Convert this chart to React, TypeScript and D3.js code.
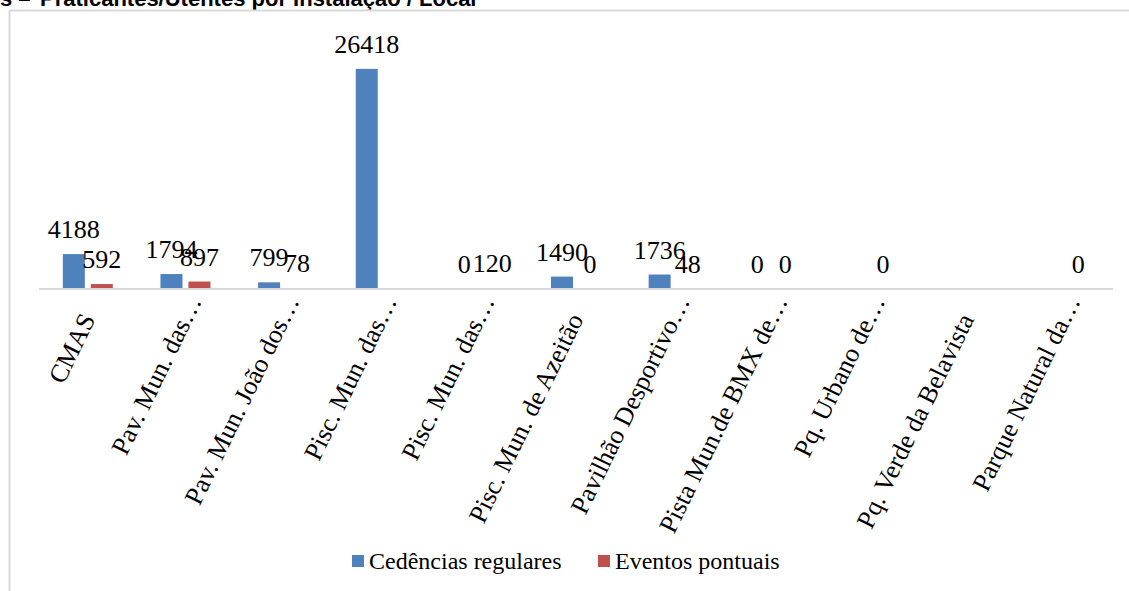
import React from "react";
import * as d3 from "d3";

const categories = [
  "CMAS",
  "Pav. Mun. das…",
  "Pav. Mun. João dos…",
  "Pisc. Mun. das…",
  "Pisc. Mun. das…",
  "Pisc. Mun. de Azeitão",
  "Pavilhão Desportivo…",
  "Pista Mun.de BMX de…",
  "Pq. Urbano de…",
  "Pq. Verde da Belavista",
  "Parque Natural da…",
];
const cedencias: (number | null)[] = [4188, 1794, 799, 26418, 0, 1490, 1736, 0, null, null, null];
const eventos: (number | null)[] = [592, 897, 78, null, 120, 0, 48, 0, 0, null, 0];
const seriesNames = ["Cedências regulares", "Eventos pontuais"];
const seriesColors = ["#4f81bd", "#c0504d"];
const titlePrefix = "s –";
const titleText = "Praticantes/Utentes por Instalação / Local";

const W = 1129;
const H = 591;
const axisY = 289;
const plotTop = 39;
const plotLeft = 39;
const plotRight = 1113;
const ANG = 64;
const serif = "'Liberation Serif', 'Times New Roman', serif";

export default function App() {
  const x0 = d3.scaleBand<number>().domain(categories.map((_, i) => i)).range([plotLeft, plotRight]).padding(0);
  const x1 = d3.scaleBand<number>().domain([0, 1]).range([0, 50]).paddingInner(0.214).paddingOuter(0);
  const y = d3.scaleLinear().domain([0, 30000]).range([axisY, plotTop]);
  const series = [cedencias, eventos];
  const bw = x0.bandwidth();
  const rad = (ANG * Math.PI) / 180;
  const ux = Math.cos(rad);
  const uy = -Math.sin(rad);

  return (
    <svg width={W} height={H} style={{ position: "absolute", left: 0, top: 0, background: "#fff" }}>
      <rect x={0} y={0} width={W} height={H} fill="#fff" />
      <text y={6} fontFamily="'Liberation Sans', Arial, sans-serif" fontWeight="bold" fontSize={22} fill="#000">
        <tspan x={0}>{titlePrefix}</tspan>
        <tspan x={40}>{titleText}</tspan>
      </text>
      <line x1={9.5} y1={10.5} x2={W} y2={10.5} stroke="#d9d9d9" strokeWidth={2} />
      <line x1={9.5} y1={10.5} x2={9.5} y2={H} stroke="#d9d9d9" strokeWidth={2} />

      {series.map((vals, si) =>
        vals.map((v, i) => {
          if (v === null || v <= 0) return null;
          const gx = (x0(i) as number) + (bw - 50) / 2;
          const bx = gx + (x1(si) as number);
          const top = y(v);
          return (
            <rect key={`b${si}-${i}`} x={bx} y={top} width={x1.bandwidth()} height={axisY - top} fill={seriesColors[si]} />
          );
        })
      )}

      <line x1={plotLeft} y1={axisY} x2={plotRight} y2={axisY} stroke="#d9d9d9" strokeWidth={2} />

      {series.map((vals, si) =>
        vals.map((v, i) => {
          if (v === null) return null;
          const gx = (x0(i) as number) + (bw - 50) / 2;
          const cx = gx + (x1(si) as number) + x1.bandwidth() / 2;
          return (
            <text
              key={`l${si}-${i}`}
              x={cx}
              y={y(v) - 16}
              textAnchor="middle"
              fontFamily={serif}
              fontSize={26}
              fill="#000"
            >
              {v}
            </text>
          );
        })
      )}

      {categories.map((c, i) => {
        const cx = (x0(i) as number) + bw / 2;
        const ell = c.endsWith("…") ? 20 : 0;
        const ax = cx + 8 + ell * ux;
        const ay = 319 + ell * uy;
        return (
          <text
            key={`c${i}`}
            transform={`translate(${ax},${ay}) rotate(${-ANG})`}
            textAnchor="end"
            fontFamily={serif}
            fontSize={26}
            fill="#000"
          >
            {c}
          </text>
        );
      })}

      <g>
        <rect x={352} y={555} width={12} height={12} fill={seriesColors[0]} />
        <text x={369} y={569} fontFamily={serif} fontSize={24} fill="#000">
          {seriesNames[0]}
        </text>
        <rect x={598} y={555} width={12} height={12} fill={seriesColors[1]} />
        <text x={615} y={569} fontFamily={serif} fontSize={24} fill="#000">
          {seriesNames[1]}
        </text>
      </g>
    </svg>
  );
}
